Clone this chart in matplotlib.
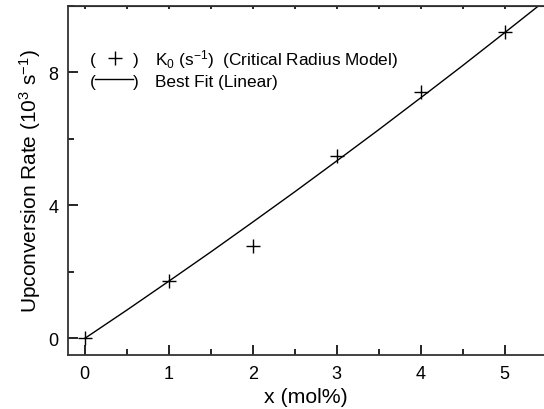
import matplotlib
matplotlib.use("Agg")
import matplotlib.pyplot as plt
from matplotlib.ticker import MultipleLocator
from matplotlib.lines import Line2D

plt.rcParams['font.family'] = ['Liberation Sans', 'DejaVu Sans']
plt.rcParams['mathtext.fontset'] = 'custom'
plt.rcParams['mathtext.rm'] = 'Liberation Sans'
plt.rcParams['mathtext.it'] = 'Liberation Sans:italic'

# Measured upconversion rates (10^3 s^-1) vs Er concentration
x_mol = [0, 1, 2, 3, 4, 5]
k0_rate = [0.0, 1.74, 2.78, 5.48, 7.40, 9.22]

# Best-fit curve sampled along x
fit_x = [0, 0.5, 1, 1.5, 2, 2.5, 3, 3.5, 4, 4.5, 5, 5.5]
fit_y = [0.0, 0.85, 1.72, 2.60, 3.50, 4.41, 5.34, 6.28, 7.24, 8.21, 9.20, 10.20]

fig = plt.figure(figsize=(5.44, 4.10), dpi=100)
ax = fig.add_axes([68 / 544, 54 / 410, 476 / 544, 349 / 410])

ax.plot(fit_x, fit_y, color='black', lw=1.0)
ax.plot(x_mol, k0_rate, ls='none', marker='+', ms=10, mew=1.0, color='black')

ax.set_xlim(-0.2, 5.467)
ax.set_ylim(-0.5, 10)
ax.xaxis.set_major_locator(MultipleLocator(1))
ax.xaxis.set_minor_locator(MultipleLocator(0.5))
ax.yaxis.set_major_locator(MultipleLocator(4))
ax.yaxis.set_minor_locator(MultipleLocator(2))
ax.tick_params(which='major', direction='in', length=7, width=1.2, labelsize=13, pad=7)
ax.tick_params(which='minor', direction='in', length=4, width=1.2)
ax.spines['right'].set_visible(False)
for s in ['left', 'bottom', 'top']:
    ax.spines[s].set_linewidth(1.3)
    ax.spines[s].set_color('#333333')

top = ax.secondary_xaxis('top')
top.xaxis.set_major_locator(MultipleLocator(0.5))
top.tick_params(direction='in', length=2.5, width=1.2, labeltop=False)

ax.set_xlabel('x (mol%)', fontsize=15.3, labelpad=4)
ax.set_ylabel(r'Upconversion Rate (10$^3$ s$^{-1}$)', fontsize=15, labelpad=4)

# Hand-built legend
base1, base2 = 0.834, 0.771
mark1, mark2 = 0.852, 0.791
fs = 12.4
ax.text(0.046, base1, '(', transform=ax.transAxes, fontsize=fs, va='baseline')
ax.add_line(Line2D([0.099], [mark1], transform=ax.transAxes, marker='+',
                   ms=10, mew=1.0, color='black'))
ax.text(0.137, base1, ')', transform=ax.transAxes, fontsize=fs, va='baseline')
ax.text(0.183, base1, r'K$_0$ (s$^{-1}$)  (Critical Radius Model)',
        transform=ax.transAxes, fontsize=fs, va='baseline')
ax.text(0.046, base2, '(', transform=ax.transAxes, fontsize=fs, va='baseline')
ax.add_line(Line2D([0.057, 0.137], [mark2, mark2], transform=ax.transAxes,
                   lw=1.0, color='black'))
ax.text(0.137, base2, ')', transform=ax.transAxes, fontsize=fs, va='baseline')
ax.text(0.183, base2, 'Best Fit (Linear)', transform=ax.transAxes,
        fontsize=fs, va='baseline')

fig.savefig('out.png', dpi=100)
